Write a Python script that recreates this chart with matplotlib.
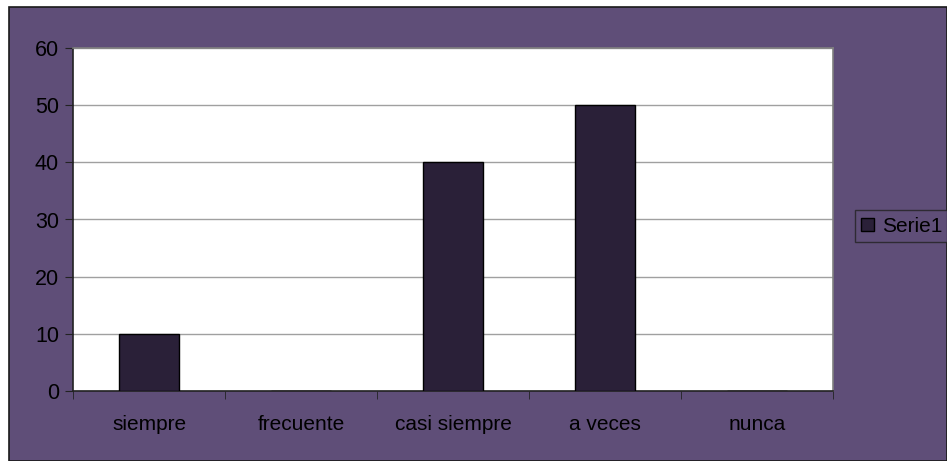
import matplotlib
matplotlib.use('Agg')
import matplotlib.pyplot as plt
from matplotlib.patches import Rectangle

categories = ['siempre', 'frecuente', 'casi siempre', 'a veces', 'nunca']
values = [10, 0, 40, 50, 0]
series_name = 'Serie1'

purple = '#5f4e78'
bar_color = '#2a2038'

plt.rcParams['font.family'] = ['Liberation Sans', 'DejaVu Sans']

fig = plt.figure(figsize=(9.47, 4.61), dpi=100)
fig.patch.set_facecolor('white')

# chart area background with border
W, H = 947, 461
fig.patches.append(Rectangle((9 / W, 0), 1 - 9 / W, 1 - 7 / H, transform=fig.transFigure,
                             facecolor=purple, edgecolor='#1a1a1a', linewidth=1.2, zorder=-5))

ax = fig.add_axes([73 / W, 1 - 391 / H, (833 - 73) / W, (391 - 48) / H])
ax.set_facecolor('white')

x = list(range(len(categories)))
ax.bar(x, values, width=0.4, color=bar_color, edgecolor='black', linewidth=1, zorder=3,
       label=series_name)

ax.set_xlim(-0.5, len(categories) - 0.5)
ax.set_ylim(0, 60)
ax.set_yticks(range(0, 61, 10))
ax.set_xticks(x)
ax.set_xticklabels(categories)
ax.set_xticks([i - 0.5 for i in range(len(categories) + 1)], minor=True)
ax.tick_params(axis='x', which='major', length=0, pad=17, labelsize=15, colors='black')
ax.tick_params(axis='x', which='minor', length=6, direction='out', color='#222222')
ax.tick_params(axis='y', length=6, direction='out', labelsize=15.5, pad=4, color='#222222')

ax.grid(True, axis='y', color='#a0a0a0', linewidth=1, zorder=0)

for side in ['top', 'right']:
    ax.spines[side].set_color('#808080')
    ax.spines[side].set_linewidth(1.2)
for side in ['left', 'bottom']:
    ax.spines[side].set_color('#222222')
    ax.spines[side].set_linewidth(1.2)

leg = fig.legend(loc='center left', bbox_to_anchor=(855 / W, 1 - 226 / H),
                 frameon=True, fancybox=False, fontsize=15, handlelength=0.6,
                 handleheight=0.6, handletextpad=0.4, borderpad=0.3, borderaxespad=0)
leg.get_frame().set_facecolor(purple)
leg.get_frame().set_edgecolor('#222222')
leg.get_frame().set_linewidth(1)

fig.savefig('out.png', dpi=100)
